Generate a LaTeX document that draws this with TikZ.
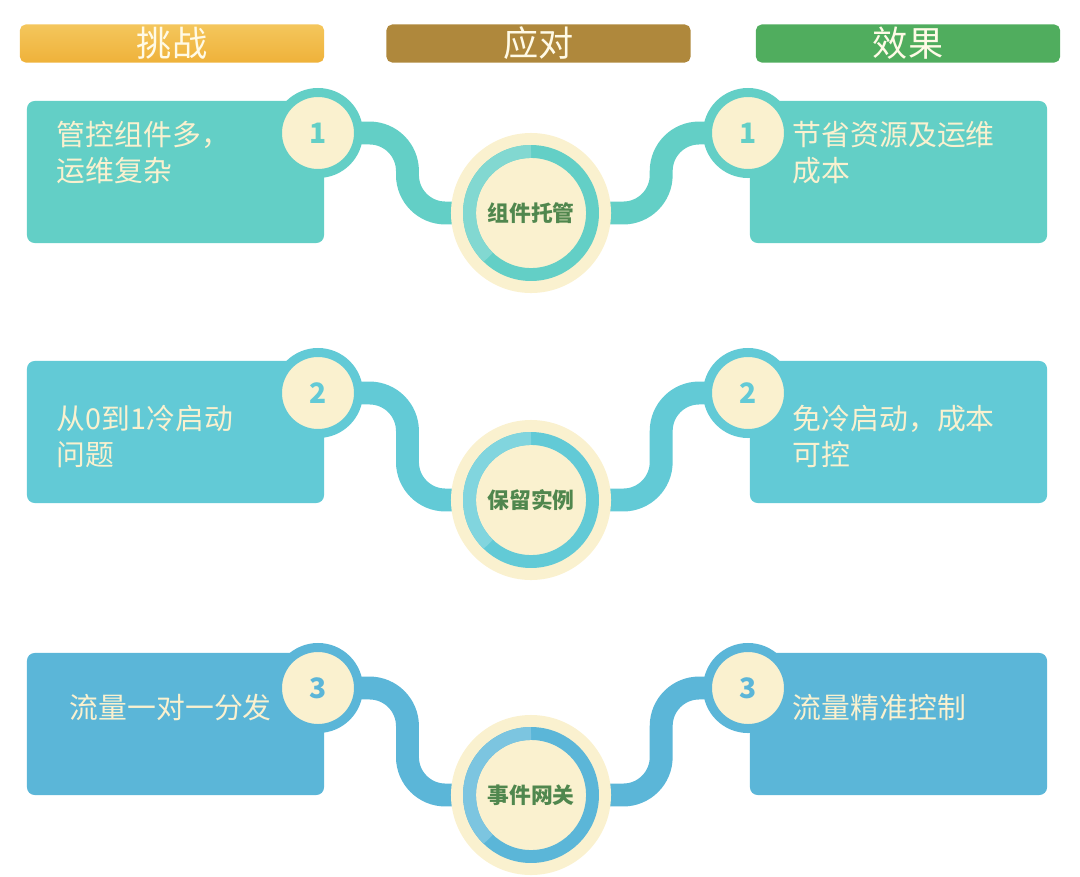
\documentclass[tikz,border=0pt]{standalone}
\usepackage{fontspec}
\setmainfont{Noto Sans CJK SC}
\definecolor{chaltop}{RGB}{244,198,92}
\definecolor{chalbottom}{RGB}{239,178,58}
\definecolor{resphead}{RGB}{175,136,60}
\definecolor{effhead}{RGB}{80,173,94}
\definecolor{rowone}{RGB}{99,207,198}
\definecolor{rowtwo}{RGB}{98,202,214}
\definecolor{rowthree}{RGB}{91,182,216}
\definecolor{cream}{RGB}{250,241,207}
\definecolor{hubtext}{RGB}{80,135,78}
\definecolor{headtext}{RGB}{255,250,230}
\usetikzlibrary{positioning, calc}
\pgfdeclarelayer{background}
\pgfsetlayers{background,main}

\begin{document}
\begin{tikzpicture}[
        x=0.025cm, y=-0.025cm,
        headbar/.style={rounded corners=4pt, minimum width=7.6cm, minimum height=0.95cm,
                        inner sep=0pt, text=headtext, font=\fontsize{25}{30}\selectfont},
        card/.style={rounded corners=5.5pt, minimum width=7.425cm, minimum height=3.55cm,
                     inner sep=0pt},
        cardtext/.style={anchor=north west, inner sep=0pt, align=left, text=cream,
                         font=\fontsize{20.5}{25.5}\selectfont},
        badge/.style={circle, fill=cream, line width=6.4pt, minimum size=2.025cm,
                      inner sep=0pt, font=\fontsize{20}{20}\selectfont\bfseries},
        hub/.style={circle, fill=cream, minimum size=4cm, inner sep=0pt, text=hubtext,
                    font=\fontsize{15.5}{16}\selectfont\bfseries},
        link/.style={line width=16.3pt, rounded corners=27pt},
        ring/.style={line width=9.2pt}
    ]
        \useasboundingbox (0,0) rectangle (1080,876);

        % Column headers
        \node[headbar, top color=chaltop, bottom color=chalbottom] (chalhead) at (172,43.5) {挑战};
        \node[headbar, fill=resphead] (resphead) at (538.5,43.5) {应对};
        \node[headbar, fill=effhead] (effhead) at (908,43.5) {效果};

        % Row 1
        \node[card, fill=rowone] (chal1) at (175.5,172) {};
        \node[card, fill=rowone] (eff1) at (898.5,172) {};
        \node[badge, draw=rowone, text=rowone] (cnum1) at (318,133) {1};
        \node[badge, draw=rowone, text=rowone] (enum1) at (748,133) {1};
        \node[hub] (hub1) at (531,213) {组件托管};
        \draw[ring, rowone] (hub1) circle[radius=1.5375cm];
        \draw[ring, rowone!80!white] ([shift={(90:1.5375cm)}]hub1.center)
            arc[start angle=90, end angle=226, radius=1.5375cm];
        \node[cardtext] at ($(chal1.north west)+(30,20)$) {管控组件多，\\运维复杂};
        \node[cardtext] at ($(eff1.north west)+(43,20)$) {节省资源及运维\\成本};

        % Row 2
        \node[card, fill=rowtwo] (chal2) at (175.5,432) {};
        \node[card, fill=rowtwo] (eff2) at (898.5,432) {};
        \node[badge, draw=rowtwo, text=rowtwo] (cnum2) at (318,393) {2};
        \node[badge, draw=rowtwo, text=rowtwo] (enum2) at (748,393) {2};
        \node[hub] (hub2) at (531,500) {保留实例};
        \draw[ring, rowtwo] (hub2) circle[radius=1.5375cm];
        \draw[ring, rowtwo!80!white] ([shift={(90:1.5375cm)}]hub2.center)
            arc[start angle=90, end angle=226, radius=1.5375cm];
        \node[cardtext] at ($(chal2.north west)+(30,44)$) {从0到1冷启动\\问题};
        \node[cardtext] at ($(eff2.north west)+(43,44)$) {免冷启动，成本\\可控};

        % Row 3
        \node[card, fill=rowthree] (chal3) at (175.5,724) {};
        \node[card, fill=rowthree] (eff3) at (898.5,724) {};
        \node[badge, draw=rowthree, text=rowthree] (cnum3) at (318,688) {3};
        \node[badge, draw=rowthree, text=rowthree] (enum3) at (748,688) {3};
        \node[hub] (hub3) at (531,795) {事件网关};
        \draw[ring, rowthree] (hub3) circle[radius=1.5375cm];
        \draw[ring, rowthree!80!white] ([shift={(90:1.5375cm)}]hub3.center)
            arc[start angle=90, end angle=226, radius=1.5375cm];
        \node[cardtext] at ($(chal3.north west)+(43,41)$) {流量一对一分发};
        \node[cardtext] at ($(eff3.north west)+(43,41)$) {流量精准控制};

        % S-shaped links behind the badges and hubs
        \coordinate (cbend1) at ($(cnum1)!0.42!(hub1)$);
        \coordinate (ebend1) at ($(hub1)!0.6!(enum1)$);
        \coordinate (cbend2) at ($(cnum2)!0.42!(hub2)$);
        \coordinate (ebend2) at ($(hub2)!0.6!(enum2)$);
        \coordinate (cbend3) at ($(cnum3)!0.42!(hub3)$);
        \coordinate (ebend3) at ($(hub3)!0.6!(enum3)$);
        \begin{pgfonlayer}{background}
            \draw[link, rowone] (cnum1.center) -- (cbend1 |- cnum1) |- (hub1.center);
            \draw[link, rowone] (hub1.center) -- (ebend1 |- hub1) |- (enum1.center);
            \draw[link, rowtwo] (cnum2.center) -- (cbend2 |- cnum2) |- (hub2.center);
            \draw[link, rowtwo] (hub2.center) -- (ebend2 |- hub2) |- (enum2.center);
            \draw[link, rowthree] (cnum3.center) -- (cbend3 |- cnum3) |- (hub3.center);
            \draw[link, rowthree] (hub3.center) -- (ebend3 |- hub3) |- (enum3.center);
        \end{pgfonlayer}
    \end{tikzpicture}
\end{document}
